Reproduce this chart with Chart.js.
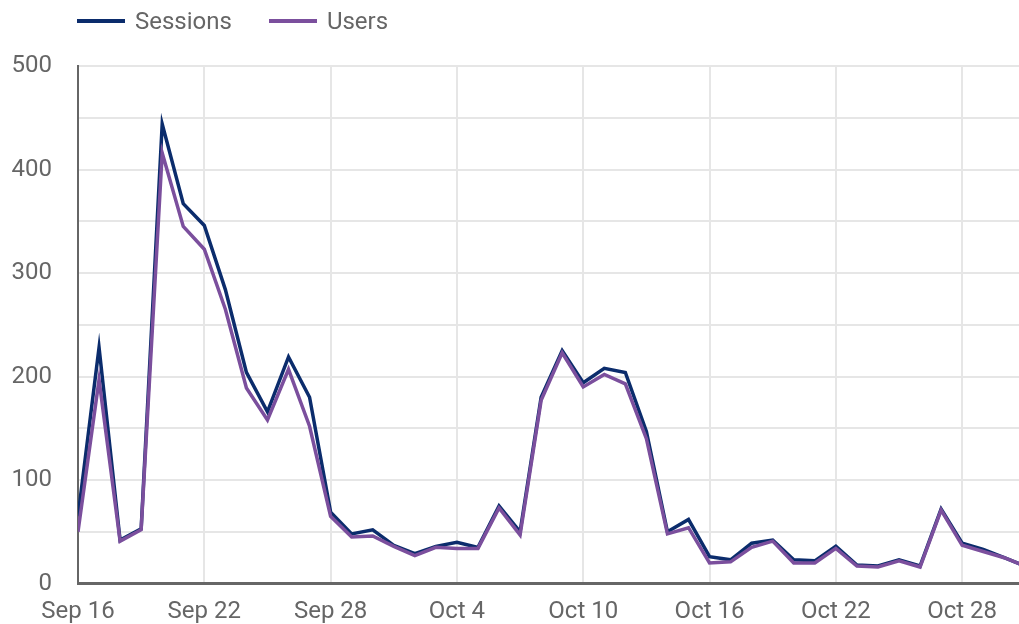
<!DOCTYPE html>
<html>
<head>
<meta charset="utf-8">
<script src="https://cdn.jsdelivr.net/npm/chart.js@4"></script>
<style>
  html, body { margin: 0; padding: 0; background: #ffffff; overflow: hidden; }
  #wrap { position: relative; width: 1019px; height: 624px; }
  #legend {
    position: absolute; top: 0; left: 77px; height: 42px;
    display: flex; align-items: center; gap: 37px;
    font-family: Roboto, sans-serif; font-size: 24px; color: #666666;
  }
  .item { display: flex; align-items: center; }
  .swatch { width: 48px; height: 4px; margin-right: 10px; }
</style>
</head>
<body>
<div id="wrap">
  <canvas id="chart" width="1019" height="624"></canvas>
  <div id="legend"></div>
</div>
<script>
// Daily dates, Sep 16 – Oct 31
const dates = [
  'Sep 16','Sep 17','Sep 18','Sep 19','Sep 20','Sep 21','Sep 22','Sep 23','Sep 24','Sep 25',
  'Sep 26','Sep 27','Sep 28','Sep 29','Sep 30',
  'Oct 1','Oct 2','Oct 3','Oct 4','Oct 5','Oct 6','Oct 7','Oct 8','Oct 9','Oct 10',
  'Oct 11','Oct 12','Oct 13','Oct 14','Oct 15','Oct 16','Oct 17','Oct 18','Oct 19','Oct 20',
  'Oct 21','Oct 22','Oct 23','Oct 24','Oct 25','Oct 26','Oct 27','Oct 28','Oct 29','Oct 30','Oct 31'
];

const sessions = [
  65, 228, 42, 53, 444, 367, 346, 284, 204, 166,
  219, 180, 69, 48, 52,
  37, 29, 36, 40, 35, 75, 50, 180, 225, 194,
  208, 204, 147, 50, 62, 26, 23, 39, 42, 23,
  22, 36, 18, 17, 23, 17, 72, 39, 33, 25, 17
];

const users = [
  50, 197, 41, 52, 416, 345, 323, 265, 189, 158,
  207, 152, 65, 45, 46,
  36, 27, 35, 34, 34, 73, 47, 177, 223, 190,
  202, 193, 140, 48, 54, 20, 21, 35, 41, 20,
  20, 34, 17, 16, 22, 16, 71, 37, 31, 25, 17
];

const xTickLabels = ['Sep 16','Sep 22','Sep 28','Oct 4','Oct 10','Oct 16','Oct 22','Oct 28'];
const yTickLabels = ['0','100','200','300','400','500'];

const seriesNames = ['Sessions', 'Users'];
const seriesColors = ['#0b2c6c', '#7b4f9d'];

Chart.defaults.font.family = 'Roboto, sans-serif';
Chart.defaults.color = '#666666';

const toPoints = arr => arr.map((v, i) => ({ x: i, y: v }));

const chart = new Chart(document.getElementById('chart'), {
  type: 'line',
  data: {
    datasets: [
      {
        label: seriesNames[0],
        data: toPoints(sessions),
        borderColor: seriesColors[0],
        backgroundColor: seriesColors[0],
        borderWidth: 3.5,
        pointRadius: 0,
        tension: 0,
        order: 2,
        clip: 0
      },
      {
        label: seriesNames[1],
        data: toPoints(users),
        borderColor: seriesColors[1],
        backgroundColor: seriesColors[1],
        borderWidth: 3.5,
        pointRadius: 0,
        tension: 0,
        order: 1,
        clip: 0
      }
    ]
  },
  options: {
    responsive: false,
    animation: false,
    layout: { padding: { top: 66, right: 0, bottom: 0, left: 0 } },
    plugins: {
      legend: { display: false },
      tooltip: { enabled: false }
    },
    scales: {
      x: {
        type: 'linear',
        min: 0,
        max: 44.7,
        afterBuildTicks: scale => {
          scale.ticks = xTickLabels.map(l => ({ value: dates.indexOf(l) }));
        },
        afterFit: scale => { scale.height = 40; },
        ticks: {
          padding: 14,
          font: { size: 24 },
          color: '#666666',
          maxRotation: 0,
          autoSkip: false,
          callback: v => dates[v]
        },
        grid: { color: '#e6e6e6', lineWidth: 2, drawTicks: false },
        border: { display: true, color: '#666666', width: 3 }
      },
      y: {
        min: 0,
        max: 500,
        afterFit: scale => { scale.width = 78; },
        ticks: {
          stepSize: 50,
          padding: 26,
          font: { size: 24 },
          color: '#666666',
          autoSkip: false,
          callback: v => (yTickLabels.includes(String(v)) ? String(v) : '')
        },
        grid: { color: '#e6e6e6', lineWidth: 2, drawTicks: false },
        border: { display: true, color: '#666666', width: 2 }
      }
    }
  }
});

// Legend built from the series names and colours, in series order
const legend = document.getElementById('legend');
seriesNames.forEach((name, i) => {
  const item = document.createElement('div');
  item.className = 'item';
  const sw = document.createElement('span');
  sw.className = 'swatch';
  sw.style.background = seriesColors[i];
  const txt = document.createElement('span');
  txt.textContent = name;
  item.appendChild(sw);
  item.appendChild(txt);
  legend.appendChild(item);
});
</script>
</body>
</html>
